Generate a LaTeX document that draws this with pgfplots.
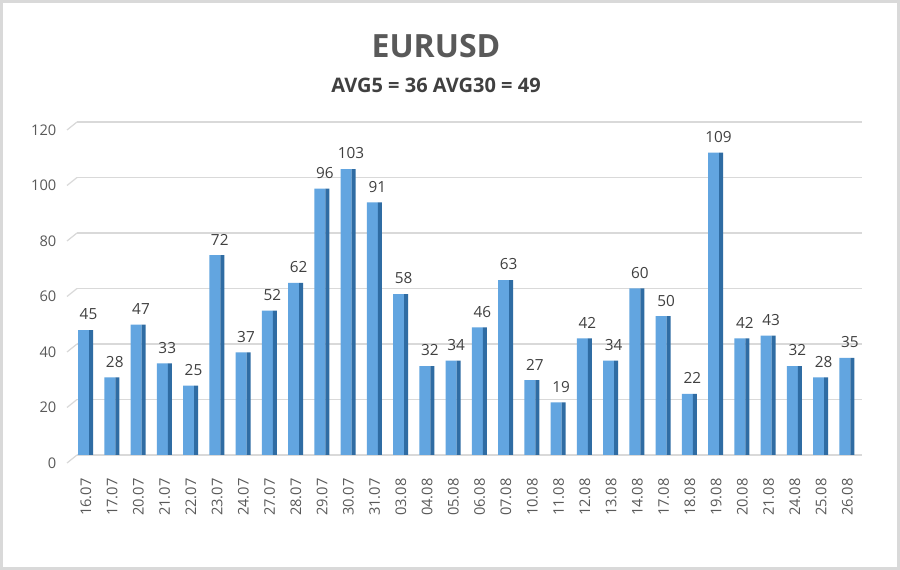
\documentclass[border=0pt]{standalone}
\usepackage{fontspec}
\setmainfont{Open Sans}
\usepackage{pgfplots}
\usepackage{pgfplotstable}
\pgfplotsset{compat=1.18}
\definecolor{barfront}{HTML}{62A5E0}
\definecolor{barside}{HTML}{2F6CA3}
\definecolor{gridc}{HTML}{D9D9D9}
\definecolor{txt}{HTML}{595959}
\definecolor{lbl}{HTML}{404040}
\pgfplotstableread{
idx val
0 45
1 28
2 47
3 33
4 25
5 72
6 37
7 52
8 62
9 96
10 103
11 91
12 58
13 32
14 34
15 46
16 63
17 27
18 19
19 42
20 34
21 60
22 50
23 22
24 109
25 42
26 43
27 32
28 28
29 35
}\datatab
\begin{document}
\begin{tikzpicture}
\useasboundingbox (0pt,0pt) rectangle (675pt,427.5pt);
\draw[draw=gridc, line width=2.25pt, fill=white] (1.125pt,1.125pt) rectangle (673.875pt,426.375pt);
\node[font=\fontsize{24}{28}\selectfont\bfseries, text=txt] at (327pt,393pt) {EURUSD};
\node[font=\fontsize{15}{18}\selectfont\bfseries, text=lbl] at (327pt,363.75pt) {AVG5 = 36 AVG30 = 49};
\begin{axis}[
  at={(57.75pt,86.25pt)}, anchor=south west,
  scale only axis, width=588.75pt, height=249.75pt,
  xmin=-0.343, xmax=29.56, ymin=0, ymax=120,
  ytick={0,20,...,120},
  xtick={0,...,29},
  xticklabels={16.07,17.07,20.07,21.07,22.07,23.07,24.07,27.07,28.07,29.07,30.07,31.07,03.08,04.08,05.08,06.08,07.08,10.08,11.08,12.08,13.08,14.08,17.08,18.08,19.08,20.08,21.08,24.08,25.08,26.08},
  axis line style={draw=none},
  major tick length=0pt,
  ymajorgrids, grid style={draw=gridc, line width=0.9pt},
  tick label style={font=\fontsize{11}{13}\selectfont, text=txt},
  /pgf/number format/assume math mode=true,
  yticklabel style={anchor=east, xshift=-12pt, yshift=-6pt},
  xticklabel style={yshift=-14pt, rotate=90, anchor=east},
  clip=false,
]
\foreach \v in {0,20,...,120}{
  \edef\temp{\noexpand\draw[gridc, line width=0.9pt] (axis cs:-0.343,\v) -- ++(-7.5pt,-6pt);}
  \temp
}
\addplot[ybar, bar width=8.25pt, bar shift=-1.875pt, fill=barfront, draw=none,
  nodes near coords, nodes near coords style={font=\fontsize{11.5}{13}\selectfont, text=lbl, yshift=4pt, xshift=1.875pt}]
  table[x=idx,y=val]{\datatab};
\addplot[ybar, bar width=3pt, bar shift=3.75pt, fill=barside, draw=none]
  table[x=idx,y=val]{\datatab};
\end{axis}
\end{tikzpicture}
\end{document}
